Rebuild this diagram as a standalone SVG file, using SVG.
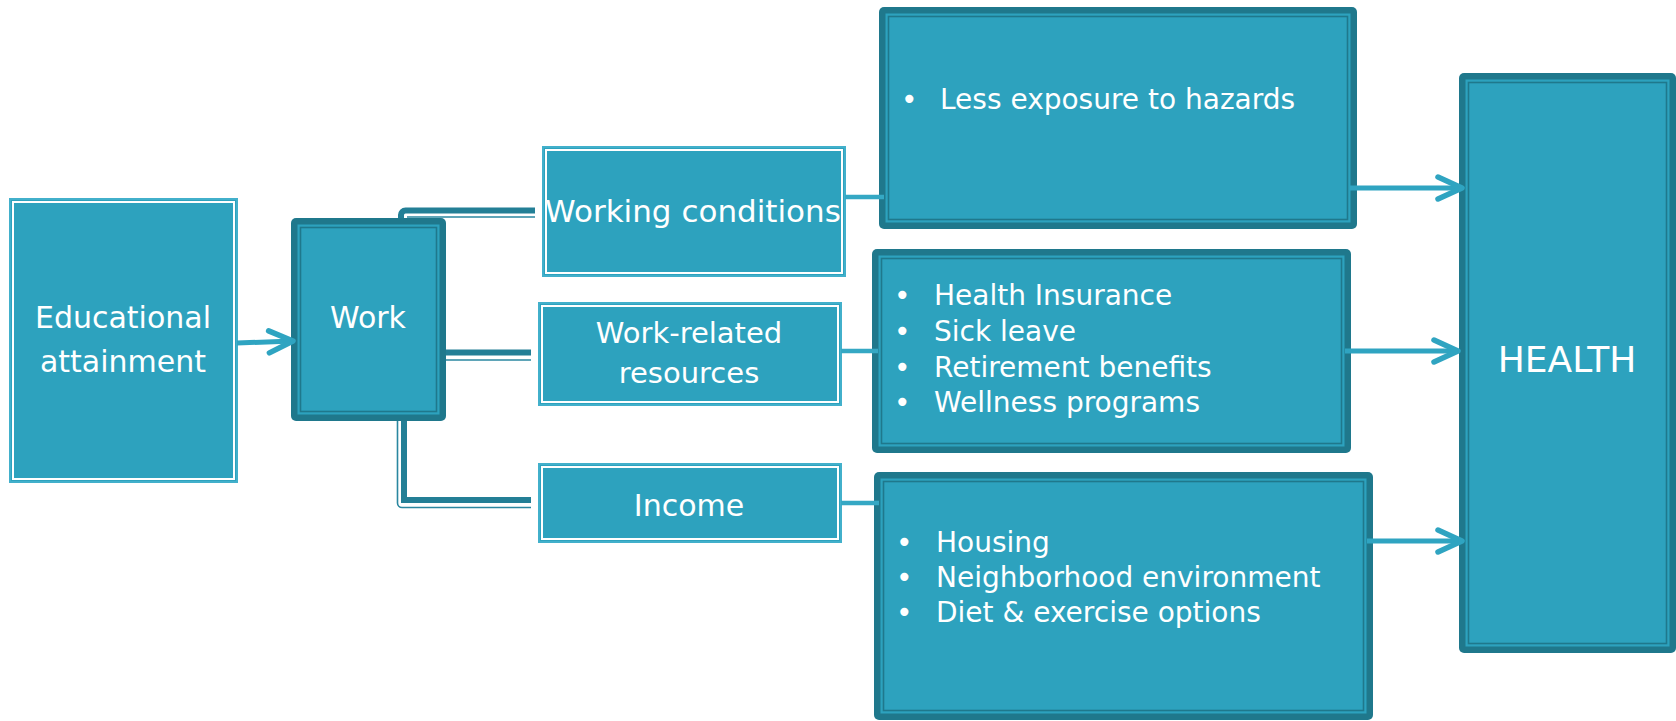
<svg xmlns="http://www.w3.org/2000/svg" width="1676" height="721" viewBox="0 0 1676 721">
<style>
  .lt-out{fill:#2da2be;stroke:#42b0cb;stroke-width:2}
  .lt-in{fill:none;stroke:#ffffff;stroke-width:2}
  .dk-out{fill:#1f788c}
  .dk-mid{fill:#2da2be}
  .dk-in{fill:none;stroke:#1f788c;stroke-width:1.6}
  .lbl{font-family:"DejaVu Sans","Liberation Sans",sans-serif;fill:#ffffff;text-anchor:middle}
  .bul{font-family:"DejaVu Sans","Liberation Sans",sans-serif;fill:#ffffff;font-size:28px}
  .arrow{fill:none;stroke:#2fa4c1;stroke-width:5;marker-end:url(#chev)}
  .link{fill:none;stroke:#35a8c4;stroke-width:4.5}
  .thick{fill:none;stroke:#237f96;stroke-width:6}
  .thin{fill:none;stroke:#2a87a0;stroke-width:1.6}
</style>
<defs>
  <marker id="chev" markerUnits="userSpaceOnUse" viewBox="-30 -16 36 32" refX="0" refY="0" markerWidth="36" markerHeight="32" orient="auto" overflow="visible">
    <path d="M-24,-11 L0,0 L-24,11" fill="none" stroke="#2fa4c1" stroke-width="5.5" stroke-linecap="round" stroke-linejoin="round"/>
  </marker>
</defs>
<rect width="1676" height="721" fill="#ffffff"/>

<g id="work-connectors">
  <path class="thick" d="M401,219 V215 A4.5,4.5 0 0 1 405.5,210.5 H535"/>
  <path class="thin" d="M407,217 H535"/>
  <path class="thick" d="M446,352.5 H531"/>
  <path class="thin" d="M446,360 H531"/>
  <path class="thick" d="M404,421 V500 H531"/>
  <path class="thin" d="M397.5,421 V503 A4.5,4.5 0 0 0 402,507.5 H531"/>
</g>

<g id="node-education">
  <rect class="lt-out" x="10" y="199" width="227" height="283"/>
  <rect class="lt-in" x="13" y="202" width="221" height="277"/>
  <text class="lbl" x="123" y="328" font-size="30">Educational</text>
  <text class="lbl" x="123" y="372" font-size="30">attainment</text>
</g>

<g id="node-work">
  <rect class="dk-out" x="291" y="218" width="155" height="203" rx="5"/>
  <rect class="dk-mid" x="297.5" y="224.5" width="142" height="190"/>
  <rect class="dk-in" x="300.5" y="227.5" width="136" height="184"/>
  <text class="lbl" x="368" y="328" font-size="30">Work</text>
</g>

<g id="node-working-conditions">
  <rect class="lt-out" x="543" y="147" width="302" height="129"/>
  <rect class="lt-in" x="546" y="150" width="296" height="123"/>
  <text class="lbl" x="693" y="222" font-size="31">Working conditions</text>
</g>

<g id="node-work-related">
  <rect class="lt-out" x="539" y="303" width="302" height="102"/>
  <rect class="lt-in" x="542" y="306" width="296" height="96"/>
  <text class="lbl" x="689" y="343" font-size="29">Work-related</text>
  <text class="lbl" x="689" y="383" font-size="29">resources</text>
</g>

<g id="node-income">
  <rect class="lt-out" x="539" y="464" width="302" height="78"/>
  <rect class="lt-in" x="542" y="467" width="296" height="72"/>
  <text class="lbl" x="689" y="516" font-size="30">Income</text>
</g>

<g id="node-hazards">
  <rect class="dk-out" x="879" y="7" width="478" height="222" rx="5"/>
  <rect class="dk-mid" x="885.5" y="13.5" width="465" height="209"/>
  <rect class="dk-in" x="888.5" y="16.5" width="459" height="203"/>
  <text class="bul" x="901" y="109">•</text>
  <text class="bul" x="940" y="109">Less exposure to hazards</text>
</g>

<g id="node-benefits">
  <rect class="dk-out" x="872" y="249" width="479" height="204" rx="5"/>
  <rect class="dk-mid" x="878.5" y="255.5" width="466" height="191"/>
  <rect class="dk-in" x="881.5" y="258.5" width="460" height="185"/>
  <text class="bul" x="894" y="305">•</text>
  <text class="bul" x="934" y="305">Health Insurance</text>
  <text class="bul" x="894" y="341">•</text>
  <text class="bul" x="934" y="341">Sick leave</text>
  <text class="bul" x="894" y="377">•</text>
  <text class="bul" x="934" y="377">Retirement benefits</text>
  <text class="bul" x="894" y="412">•</text>
  <text class="bul" x="934" y="412">Wellness programs</text>
</g>

<g id="node-environment">
  <rect class="dk-out" x="874" y="472" width="499" height="248" rx="5"/>
  <rect class="dk-mid" x="880.5" y="478.5" width="486" height="235"/>
  <rect class="dk-in" x="883.5" y="481.5" width="480" height="229"/>
  <text class="bul" x="896" y="552">•</text>
  <text class="bul" x="936" y="552">Housing</text>
  <text class="bul" x="896" y="587">•</text>
  <text class="bul" x="936" y="587">Neighborhood environment</text>
  <text class="bul" x="896" y="622">•</text>
  <text class="bul" x="936" y="622">Diet &amp; exercise options</text>
</g>

<g id="node-health">
  <rect class="dk-out" x="1459" y="73" width="217" height="580" rx="5"/>
  <rect class="dk-mid" x="1465.5" y="79.5" width="204" height="567"/>
  <rect class="dk-in" x="1468.5" y="82.5" width="198" height="561"/>
  <text class="lbl" x="1567" y="372" font-size="36">HEALTH</text>
</g>

<g id="connectors">
  <path class="arrow" d="M237,343 L293,341"/>
  <path class="link" d="M845,197 H884"/>
  <path class="link" d="M841,351 H878"/>
  <path class="link" d="M841,503 H879"/>
  <path class="arrow" d="M1350,188 H1462"/>
  <path class="arrow" d="M1345,351 H1458"/>
  <path class="arrow" d="M1367,541 H1462"/>
</g>
</svg>
